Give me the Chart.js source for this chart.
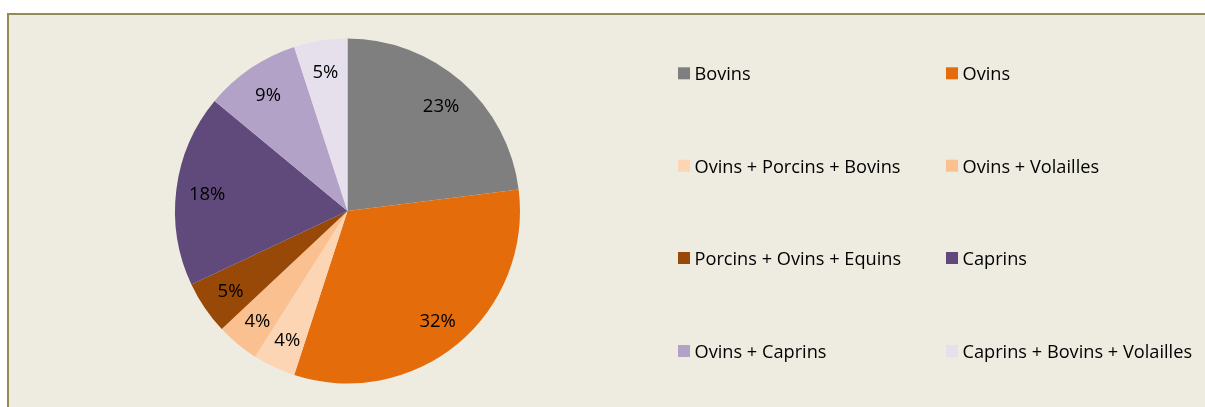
<!DOCTYPE html>
<html lang="fr">
<head>
    <meta charset="UTF-8">
    <title>Répartition des élevages</title>
    <script src="https://cdn.jsdelivr.net/npm/chart.js"></script>
    <style>
        html, body { margin: 0; padding: 0; background: #ffffff; overflow: hidden; }
        .frame {
            position: absolute; left: 7px; top: 13px; width: 1300px; height: 500px;
            background: #EEECE1; border-top: 2px solid #948A54; border-left: 2px solid #948A54;
        }
        .chart-box { position: absolute; left: 0; top: 0; width: 1205px; height: 407px; }
    </style>
</head>
<body>
    <div class="frame"></div>
    <div class="chart-box">
        <canvas id="pieChart" width="1205" height="407"></canvas>
    </div>

    <script>
        // Data
        const categories = [
            'Bovins', 'Ovins', 'Ovins + Porcins + Bovins', 'Ovins + Volailles',
            'Porcins + Ovins + Equins', 'Caprins', 'Ovins + Caprins', 'Caprins + Bovins + Volailles'
        ];
        const shares = [23, 32, 4, 4, 5, 18, 9, 5];
        const sliceColors = ['#7F7F7F', '#E46C0A', '#FCD5B5', '#FAC090', '#984807', '#604A7B', '#B3A2C7', '#E6E0EC'];

        const FONT = '"Open Sans", "Noto Sans", sans-serif';

        // Percent labels inside each slice
        const sliceLabels = {
            id: 'sliceLabels',
            afterDatasetsDraw(chart) {
                const ctx = chart.ctx;
                const meta = chart.getDatasetMeta(0);
                ctx.save();
                ctx.font = '18.5px ' + FONT;
                ctx.fillStyle = '#000000';
                ctx.textAlign = 'center';
                ctx.textBaseline = 'middle';
                meta.data.forEach((arc, i) => {
                    const p = arc.getProps(['x', 'y', 'startAngle', 'endAngle', 'outerRadius'], true);
                    const mid = (p.startAngle + p.endAngle) / 2;
                    const r = p.outerRadius * 0.82;
                    ctx.fillText(chart.data.datasets[0].data[i] + '%', p.x + Math.cos(mid) * r, p.y + Math.sin(mid) * r + 1.5);
                });
                ctx.restore();
            }
        };

        // Two-column legend on the right, filled row by row
        const gridLegend = {
            id: 'gridLegend',
            afterDraw(chart) {
                const ctx = chart.ctx;
                const colX = [678, 946];
                const rowY = [73.3, 165.7, 258, 351];
                ctx.save();
                ctx.font = '18.2px ' + FONT;
                ctx.textBaseline = 'alphabetic';
                ctx.textAlign = 'left';
                chart.data.labels.forEach((label, i) => {
                    const x = colX[i % 2];
                    const y = rowY[Math.floor(i / 2)];
                    ctx.fillStyle = chart.data.datasets[0].backgroundColor[i];
                    ctx.fillRect(x, y - 6, 12, 12);
                    ctx.fillStyle = '#000000';
                    ctx.fillText(label, x + 16.5, y + 7);
                });
                ctx.restore();
            }
        };

        const ctx = document.getElementById('pieChart').getContext('2d');
        const pieChart = new Chart(ctx, {
            type: 'pie',
            data: {
                labels: categories,
                datasets: [{
                    data: shares,
                    backgroundColor: sliceColors,
                    borderWidth: 0
                }]
            },
            options: {
                responsive: false,
                animation: false,
                radius: 172.5,
                layout: {
                    padding: { left: 175, right: 685, top: 38.5, bottom: 23.5 }
                },
                plugins: {
                    legend: { display: false },
                    tooltip: { enabled: false }
                }
            },
            plugins: [sliceLabels, gridLegend]
        });
    </script>
</body>
</html>
